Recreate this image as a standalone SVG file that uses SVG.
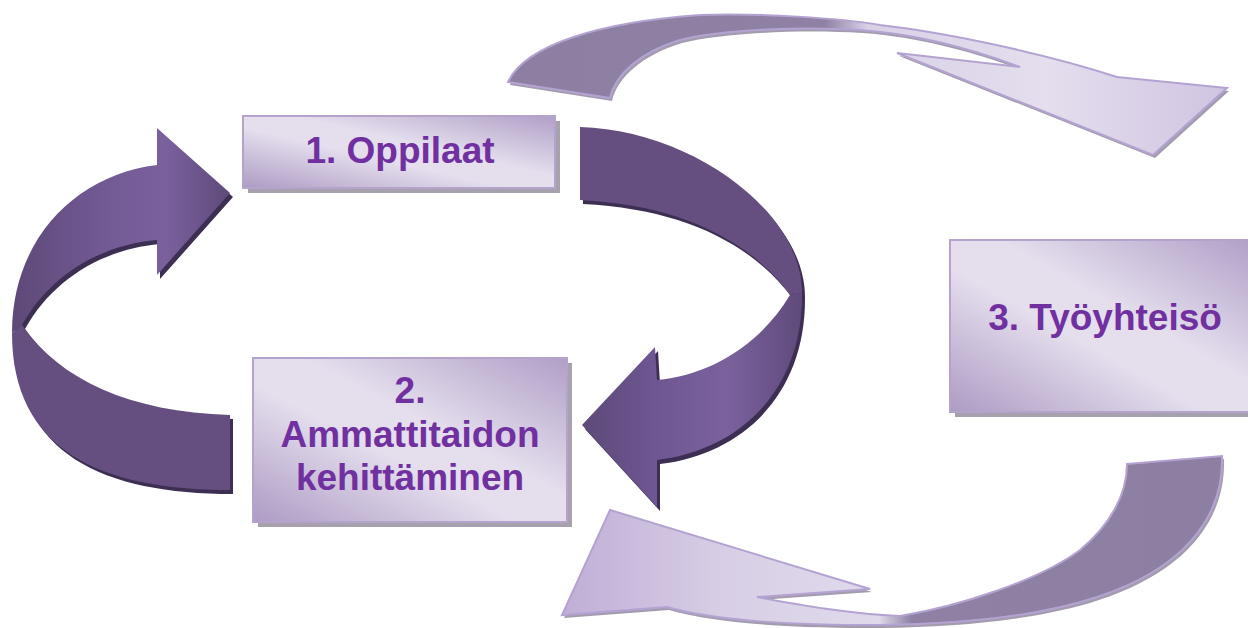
<svg xmlns="http://www.w3.org/2000/svg" width="1248" height="628" viewBox="0 0 1248 628">
<defs>
<style>
.box{stroke:#b4a4cc;stroke-width:2;fill:url(#boxg)}
.bshadow{fill:#a6a1ad}
.lbl{font-family:"Liberation Sans",Arial,sans-serif;font-weight:bold;font-size:37px;fill:#7030a0;text-anchor:middle}
.dshadow{fill:#3d2f53}
.back{fill:#654f80}
.lshadow{fill:#a39cae}
.lstroke{stroke:#b4a3d2;stroke-width:2;stroke-linejoin:miter}
</style>
<linearGradient id="boxg" x1="0" y1="1" x2="1" y2="0">
<stop offset="0" stop-color="#ad9bc4"/>
<stop offset="0.42" stop-color="#e4deed"/>
<stop offset="0.58" stop-color="#e4deed"/>
<stop offset="1" stop-color="#b09fc7"/>
</linearGradient>
<linearGradient id="leftFront" gradientUnits="userSpaceOnUse" x1="12" y1="0" x2="230" y2="0">
<stop offset="0" stop-color="#5d4978"/>
<stop offset="0.45" stop-color="#735b96"/>
<stop offset="0.7" stop-color="#7a619d"/>
<stop offset="1" stop-color="#5e4a7a"/>
</linearGradient>
<linearGradient id="rightFront" gradientUnits="userSpaceOnUse" x1="582" y1="0" x2="803" y2="0">
<stop offset="0" stop-color="#5d4978"/>
<stop offset="0.3" stop-color="#6c5590"/>
<stop offset="0.65" stop-color="#7b629e"/>
<stop offset="1" stop-color="#5e4a7a"/>
</linearGradient>
<linearGradient id="topG" gradientUnits="userSpaceOnUse" x1="508" y1="0" x2="1227" y2="0">
<stop offset="0" stop-color="#8c7fa1"/>
<stop offset="0.44" stop-color="#8e81a4"/>
<stop offset="0.5" stop-color="#d9d0e6"/>
<stop offset="0.75" stop-color="#e4deee"/>
<stop offset="1" stop-color="#d0c4e1"/>
</linearGradient>
<linearGradient id="botG" gradientUnits="userSpaceOnUse" x1="562" y1="0" x2="1222" y2="0">
<stop offset="0" stop-color="#bfaed6"/>
<stop offset="0.25" stop-color="#d8cfe6"/>
<stop offset="0.48" stop-color="#e0d9eb"/>
<stop offset="0.53" stop-color="#8e81a3"/>
<stop offset="1" stop-color="#8c7fa1"/>
</linearGradient>
</defs>

<g id="connectors">
  <g id="arrow-top">
    <path class="lshadow" transform="translate(2,3)" d="M508,82 C525,45 600,22 700,15 C760,13 840,18 880,25 C950,33 1050,55 1117,77 L1227,88 L1153,155 L897,53 L1020,67 C980,52 920,34 860,30 C800,26 720,30 680,40 C640,52 615,75 610,98 Z"/>
    <path class="lstroke" fill="url(#topG)" d="M508,82 C525,45 600,22 700,15 C760,13 840,18 880,25 C950,33 1050,55 1117,77 L1227,88 L1153,155 L897,53 L1020,67 C980,52 920,34 860,30 C800,26 720,30 680,40 C640,52 615,75 610,98 Z"/>
  </g>
  <g id="arrow-bottom">
    <path class="lshadow" transform="translate(2,3)" d="M1127,464 L1222,456 C1224,520 1180,570 1097,597 C1040,616 960,624 880,625 C800,625 720,622 667,607 L562,615 L610,510 L870,589 L757,597 C800,605 850,614 900,616 C960,606 1040,580 1080,550 C1110,525 1127,495 1127,464 Z"/>
    <path class="lstroke" fill="url(#botG)" d="M1127,464 L1222,456 C1224,520 1180,570 1097,597 C1040,616 960,624 880,625 C800,625 720,622 667,607 L562,615 L610,510 L870,589 L757,597 C800,605 850,614 900,616 C960,606 1040,580 1080,550 C1110,525 1127,495 1127,464 Z"/>
  </g>
  <g id="arrow-left">
    <path class="dshadow" transform="translate(3,4)" d="M157,165 C75,175 12,240 12,333 C12,450 100,490 230,490 L230,415 C130,412 60,380 22,325 C50,275 100,245 157,240 L157,275 L230,193 L157,128 Z"/>
    <path class="back" d="M12,333 C12,450 100,490 230,490 L230,415 C130,412 60,380 22,325 Z"/>
    <path fill="url(#leftFront)" d="M157,165 C75,175 12,240 12,333 L22,325 C50,275 100,245 157,240 L157,275 L230,193 L157,128 Z"/>
  </g>
  <g id="arrow-right">
    <path class="dshadow" transform="translate(3,4)" d="M580,127 C690,130 802,210 802,293 C803,390 740,450 657,460 L657,507 L582,425 L655,347 L657,380 C710,375 760,345 790,295 C750,240 680,205 580,200 Z"/>
    <path class="back" d="M580,127 C690,130 802,210 802,293 L790,295 C750,240 680,205 580,200 Z"/>
    <path fill="url(#rightFront)" d="M802,293 C803,390 740,450 657,460 L657,507 L582,425 L655,347 L657,380 C710,375 760,345 790,295 Z"/>
  </g>
</g>

<g id="node1">
  <rect class="bshadow" x="248" y="121" width="312" height="72"/>
  <rect class="box" x="243" y="116" width="312" height="72"/>
  <text class="lbl" x="400" y="163">1. Oppilaat</text>
</g>
<g id="node2">
  <rect class="bshadow" x="258" y="363" width="314" height="164"/>
  <rect class="box" x="253" y="358" width="314" height="164"/>
  <text class="lbl" x="410" y="403">2.</text>
  <text class="lbl" x="410" y="447">Ammattitaidon</text>
  <text class="lbl" x="410" y="490">kehittäminen</text>
</g>
<g id="node3">
  <rect class="bshadow" x="955" y="245" width="305" height="172"/>
  <rect class="box" x="950" y="240" width="305" height="172"/>
  <text class="lbl" x="1105" y="330">3. Työyhteisö</text>
</g>
</svg>
